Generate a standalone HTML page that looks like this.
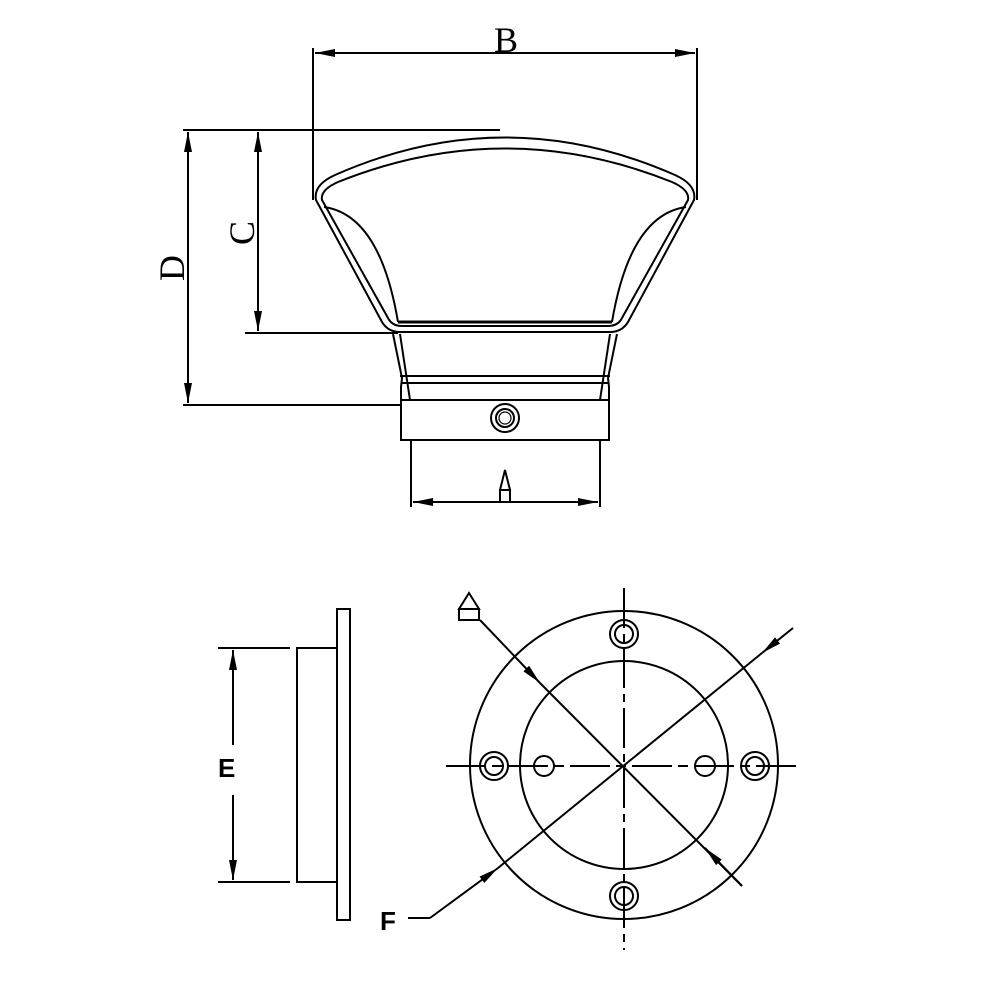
<!DOCTYPE html>
<html><head><style>body{margin:0;background:#fff}svg{display:block}</style></head><body>
<svg width="990" height="990" viewBox="0 0 990 990" xmlns="http://www.w3.org/2000/svg">
<defs>
<marker id="ar" viewBox="0 0 20 8" refX="20" refY="4" markerWidth="20" markerHeight="8" markerUnits="userSpaceOnUse" orient="auto-start-reverse"><path d="M0,0L20,4L0,8z" fill="#000"/></marker>
</defs>
<g fill="none" stroke="#000" stroke-width="2">
<line x1="313" y1="48" x2="313" y2="200"/><line x1="697" y1="48" x2="697" y2="200"/>
<line x1="315" y1="53" x2="695" y2="53" marker-start="url(#ar)" marker-end="url(#ar)"/>
<line x1="183" y1="130" x2="500" y2="130"/>
<line x1="245" y1="333" x2="398" y2="333"/>
<line x1="183" y1="405" x2="402" y2="405"/>
<line x1="188" y1="132" x2="188" y2="403" marker-start="url(#ar)" marker-end="url(#ar)"/>
<line x1="258" y1="132" x2="258" y2="331" marker-start="url(#ar)" marker-end="url(#ar)"/>
<line x1="411" y1="440" x2="411" y2="507"/><line x1="600" y1="440" x2="600" y2="507"/>
<line x1="413" y1="502" x2="598" y2="502" marker-start="url(#ar)" marker-end="url(#ar)"/>
<path d="M316,200 Q313,185 335,175 Q505,100 675,175 Q697,185 694,200 L628,322 Q622,332 610,332 L400,332 Q388,332 382,322 Z"/>
<path d="M322,200 Q320,190 338,182 Q505,115 672,182 Q690,190 688,200 L622,318 Q618,326 608,326 L402,326 Q392,326 388,318 Z"/>
<path d="M324,207 Q380,215 398,322"/><path d="M686,207 Q630,215 612,322"/>
<line x1="398" y1="322" x2="612" y2="322" stroke-width="3"/>
<path d="M393,334 L402,378 L401,387 L401,440 L609,440 L609,387 L608,378 L617,334"/>
<path d="M400,334 L410,400"/><path d="M610,334 L600,400"/>
<line x1="400" y1="376" x2="610" y2="376"/><line x1="401" y1="383" x2="609" y2="383"/><line x1="401" y1="400" x2="609" y2="400"/>
<circle cx="505" cy="418" r="14"/><circle cx="505" cy="418" r="9"/><circle cx="505" cy="418" r="6" stroke-width="1.2"/>
<rect x="337" y="609" width="13" height="311"/>
<rect x="297" y="648" width="40" height="234"/>
<line x1="218" y1="648" x2="290" y2="648"/><line x1="218" y1="882" x2="290" y2="882"/>
<line x1="233" y1="745" x2="233" y2="650" marker-end="url(#ar)"/>
<line x1="233" y1="795" x2="233" y2="880" marker-end="url(#ar)"/>
<circle cx="624" cy="765" r="154"/><circle cx="624" cy="765" r="104"/>
<line x1="624" y1="588" x2="624" y2="950" stroke-dasharray="40,6,8,6"/>
<line x1="446" y1="766" x2="800" y2="766" stroke-dasharray="40,6,10,6"/>
<circle cx="624" cy="634" r="14"/><circle cx="624" cy="634" r="9"/>
<circle cx="624" cy="896" r="14"/><circle cx="624" cy="896" r="9"/>
<circle cx="494" cy="766" r="14"/><circle cx="494" cy="766" r="9"/>
<circle cx="755" cy="766" r="14"/><circle cx="755" cy="766" r="9"/>
<circle cx="544" cy="766" r="10"/><circle cx="705" cy="766" r="10"/>
<line x1="480" y1="620" x2="540" y2="683" marker-end="url(#ar)"/>
<line x1="540" y1="683" x2="742" y2="886"/>
<line x1="742" y1="886" x2="705" y2="848" marker-end="url(#ar)"/>
<line x1="793" y1="628" x2="762" y2="653" marker-end="url(#ar)"/>
<line x1="762" y1="653" x2="498" y2="868"/>
<line x1="430" y1="918" x2="498" y2="868" marker-end="url(#ar)"/>
<line x1="408" y1="918" x2="430" y2="918"/>
<path d="M459,609 L469,593 L479,609 Z M459,609 L479,609 L479,620 L459,620 Z"/>
<path d="M500,490 L505,470 L510,490 Z"/><rect x="500" y="490" width="10" height="12"/>
</g>
<g font-family="Liberation Serif, serif" font-size="36" fill="#000">
<text x="506" y="52" text-anchor="middle">B</text>
<text transform="translate(184,268) rotate(-90)" text-anchor="middle">D</text>
<text transform="translate(254,233) rotate(-90)" text-anchor="middle">C</text>
</g>
<g font-family="Liberation Sans, sans-serif" font-size="26" font-weight="bold" fill="#000">
<text x="218" y="777">E</text>
<text x="380" y="930">F</text>
</g>
</svg>
</body></html>
